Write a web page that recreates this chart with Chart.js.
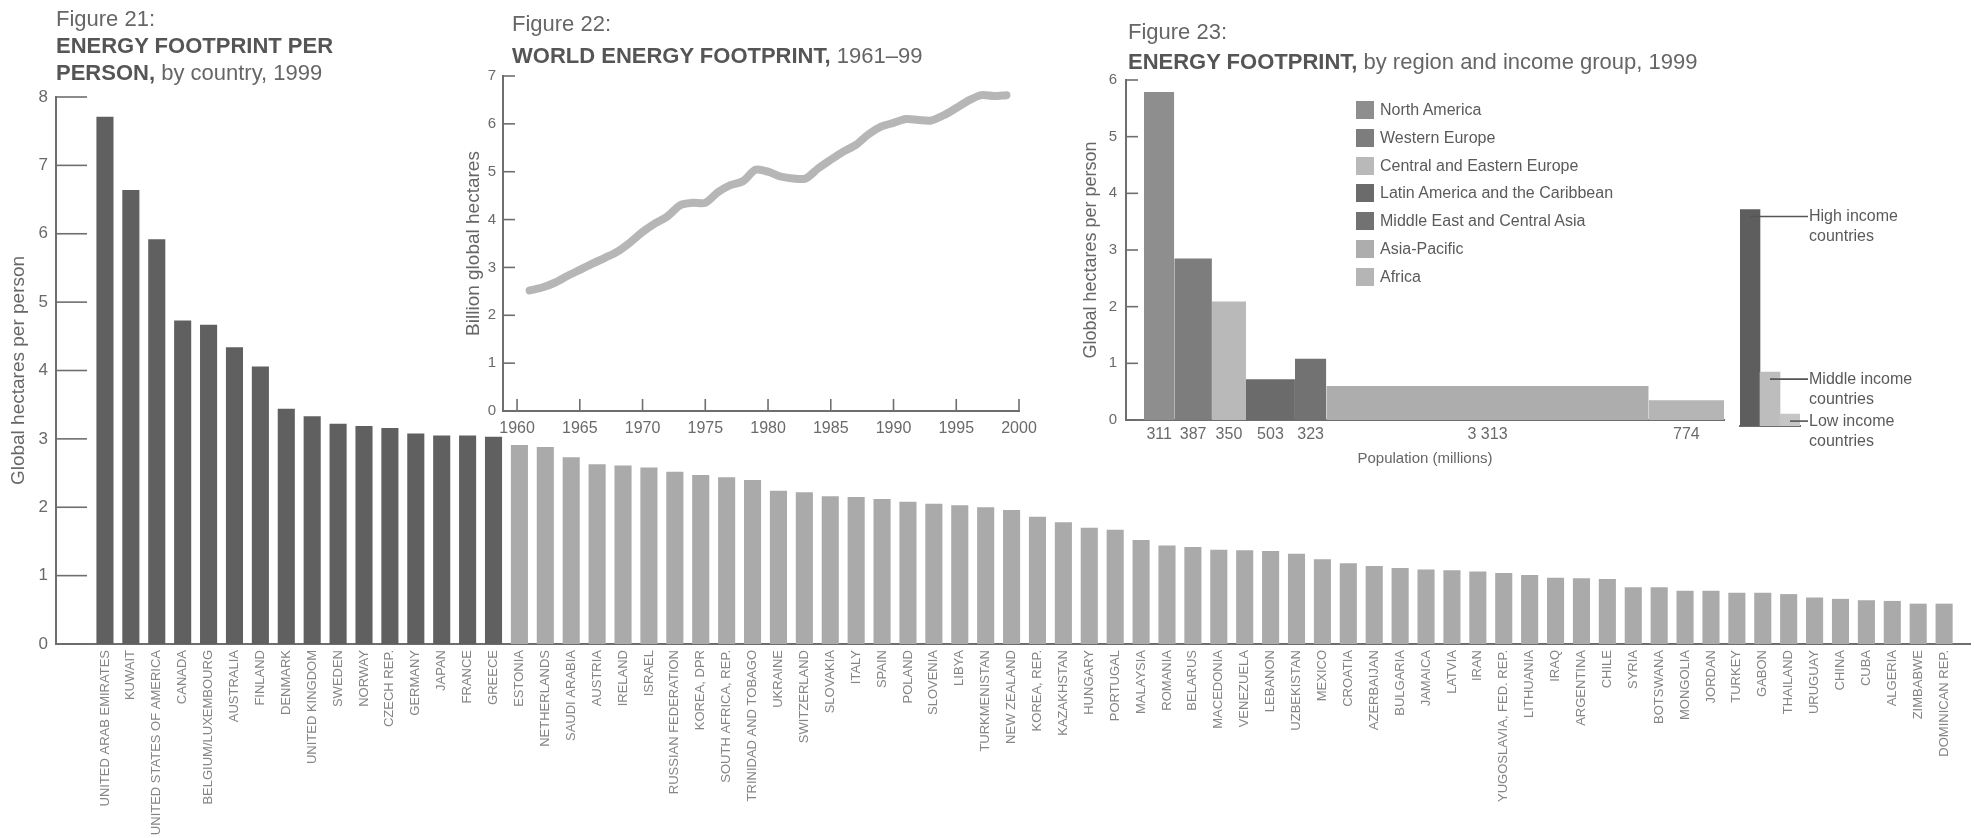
<!DOCTYPE html>
<html><head><meta charset="utf-8">
<script src="https://cdn.jsdelivr.net/npm/chart.js@4.4.1/dist/chart.umd.min.js"></script>
<style>
html,body{margin:0;padding:0;background:#fff;}
#wrap{position:relative;width:1974px;height:838px;overflow:hidden;font-family:"Liberation Sans",Arial,sans-serif;color:#5a5a5a;background:#fff;}
canvas{position:absolute;}
.t{position:absolute;white-space:nowrap;font-size:22px;line-height:27px;color:#666;}
.b{font-weight:bold;color:#555;}
.lg{position:absolute;font-size:16px;line-height:18px;color:#5a5a5a;white-space:nowrap;}
.sw{display:inline-block;width:18px;height:18px;vertical-align:top;margin-right:6px;}
</style></head>
<body><div id="wrap">
<canvas id="c21" width="1974" height="838" style="left:0;top:0"></canvas>
<canvas id="c22" width="600" height="400" style="left:450px;top:60px"></canvas>
<canvas id="c23" width="670" height="420" style="left:1070px;top:60px"></canvas>
<canvas id="cInc" width="254" height="420" style="left:1720px;top:66px"></canvas>
<div class="t" style="left:56px;top:5px">Figure 21:<br><span class="b">ENERGY FOOTPRINT PER</span><br><span class="b">PERSON,</span> by country, 1999</div>
<div class="t" style="left:512px;top:10px">Figure 22:</div>
<div class="t" style="left:512px;top:42px"><span class="b">WORLD ENERGY FOOTPRINT,</span> 1961–99</div>
<div class="t" style="left:1128px;top:18px">Figure 23:</div>
<div class="t" style="left:1128px;top:48px"><span class="b">ENERGY FOOTPRINT,</span> by region and income group, 1999</div>
<div id="legend"></div>
</div>
<script>
// ---------- DATA ----------
const countries = ["UNITED ARAB EMIRATES","KUWAIT","UNITED STATES OF AMERICA","CANADA","BELGIUM/LUXEMBOURG","AUSTRALIA","FINLAND","DENMARK","UNITED KINGDOM","SWEDEN","NORWAY","CZECH REP.","GERMANY","JAPAN","FRANCE","GREECE","ESTONIA","NETHERLANDS","SAUDI ARABIA","AUSTRIA","IRELAND","ISRAEL","RUSSIAN FEDERATION","KOREA, DPR","SOUTH AFRICA, REP.","TRINIDAD AND TOBAGO","UKRAINE","SWITZERLAND","SLOVAKIA","ITALY","SPAIN","POLAND","SLOVENIA","LIBYA","TURKMENISTAN","NEW ZEALAND","KOREA, REP.","KAZAKHSTAN","HUNGARY","PORTUGAL","MALAYSIA","ROMANIA","BELARUS","MACEDONIA","VENEZUELA","LEBANON","UZBEKISTAN","MEXICO","CROATIA","AZERBAIJAN","BULGARIA","JAMAICA","LATVIA","IRAN","YUGOSLAVIA, FED. REP.","LITHUANIA","IRAQ","ARGENTINA","CHILE","SYRIA","BOTSWANA","MONGOLIA","JORDAN","TURKEY","GABON","THAILAND","URUGUAY","CHINA","CUBA","ALGERIA","ZIMBABWE","DOMINICAN REP."];
const footprintPerPerson = [7.71,6.64,5.92,4.73,4.67,4.34,4.06,3.44,3.33,3.22,3.19,3.16,3.08,3.05,3.05,3.03,
  2.91,2.88,2.73,2.63,2.61,2.58,2.52,2.47,
  2.44,2.40,2.24,2.22,2.16,2.15,2.12,2.08,2.05,2.03,2.00,1.96,1.86,1.78,1.70,1.67,1.52,1.44,1.42,1.38,
  1.37,1.36,1.32,1.24,1.18,1.14,1.11,1.09,1.08,1.06,1.04,1.01,0.97,0.96,0.95,0.83,0.83,0.78,0.78,0.75,0.75,0.73,0.68,0.66,0.64,0.63,0.59,0.59];
const highIncomeCountryCount = 16;
const fig21YTicks = [0,1,2,3,4,5,6,7,8];

const years = [1961,1962,1963,1964,1965,1966,1967,1968,1969,1970,1971,1972,1973,1974,1975,1976,1977,1978,1979,1980,1981,1982,1983,1984,1985,1986,1987,1988,1989,1990,1991,1992,1993,1994,1995,1996,1997,1998,1999];
const worldEnergyFootprint = [2.52,2.58,2.68,2.82,2.95,3.08,3.20,3.33,3.52,3.74,3.92,4.07,4.30,4.35,4.35,4.57,4.72,4.80,5.04,5.00,4.90,4.86,4.86,5.07,5.25,5.42,5.56,5.78,5.94,6.02,6.10,6.08,6.07,6.18,6.33,6.49,6.60,6.58,6.60];
const fig22XTicks = [1960,1965,1970,1975,1980,1985,1990,1995,2000];

const regions = ["North America","Western Europe","Central and Eastern Europe","Latin America and the Caribbean","Middle East and Central Asia","Asia-Pacific","Africa"];
const regionFootprint = [5.79,2.85,2.09,0.72,1.08,0.60,0.35];
const regionPopulation = [311,387,350,503,323,3313,774];

const incomeGroups = ["High income countries","Middle income countries","Low income countries"];
const incomeFootprint = [3.82,0.95,0.21];

// ---------- STYLE ----------
const FONT = '"Liberation Sans", Arial, sans-serif';
Chart.defaults.font.family = FONT;
Chart.defaults.color = '#666';
const AXIS = '#6e6e6e', TICKC = '#6a6a6a';
const regionColors = ['#8e8e8e','#7d7d7d','#b9b9b9','#6b6b6b','#727272','#adadad','#b5b5b5'];
const incomeColors = ['#5e5e5e','#bdbdbd','#c6c6c6'];

const innerTicks = {
  id:'innerTicks',
  afterDatasetsDraw(chart, args, opts){
    const ctx = chart.ctx; ctx.save();
    ctx.strokeStyle = opts.color || AXIS; ctx.lineWidth = opts.width || 1.6;
    (opts.axes||[]).forEach(a=>{
      const s = chart.scales[a.id];
      s.ticks.forEach(t=>{
        const p = s.getPixelForValue(t.value);
        ctx.beginPath();
        if (s.isHorizontal()) { ctx.moveTo(p, s.top); ctx.lineTo(p, s.top - a.len); }
        else { ctx.moveTo(s.right, p); ctx.lineTo(s.right + a.len, p); }
        ctx.stroke();
      });
    });
    ctx.restore();
  }
};

// ---------- FIGURE 21 ----------
new Chart(document.getElementById('c21'), {
  type:'bar',
  data:{ datasets:[{
    data: footprintPerPerson.map((v,i)=>({x:i,y:v})),
    backgroundColor: footprintPerPerson.map((v,i)=> i < highIncomeCountryCount ? '#606060' : '#aaaaaa'),
    barPercentage:0.66, categoryPercentage:1.0
  }]},
  plugins:[innerTicks],
  options:{
    responsive:false, animation:false, devicePixelRatio:1,
    layout:{padding:{top:97,right:4,left:0,bottom:0}},
    plugins:{legend:{display:false}, tooltip:{enabled:false},
      innerTicks:{axes:[{id:'y',len:31}]}},
    scales:{
      x:{type:'linear', min:-1.89, max:72.0, offset:false,
        grid:{display:false, drawTicks:false},
        border:{display:true, color:AXIS, width:2},
        afterBuildTicks:s=>{ s.ticks = countries.map((c,i)=>({value:i})); },
        ticks:{autoSkip:false, maxRotation:90, minRotation:90, padding:6, color:'#858585',
          font:{size:13}, callback:(v,i)=>countries[i]},
        afterFit:s=>{ s.height = 194; }
      },
      y:{min:0, max:8,
        afterBuildTicks:s=>{ s.ticks = fig21YTicks.map(v=>({value:v})); },
        grid:{display:false, drawTicks:false},
        border:{display:true, color:AXIS, width:2},
        ticks:{padding:8, color:TICKC, font:{size:17}},
        title:{display:true, text:'Global hectares per person', color:'#666', font:{size:19}, padding:{top:7,bottom:0}},
        afterFit:s=>{ s.width = 56; }
      }
    }
  }
});

// ---------- FIGURE 22 ----------
new Chart(document.getElementById('c22'), {
  type:'line',
  data:{ datasets:[{
    data: years.map((y,i)=>({x:y, y:worldEnergyFootprint[i]})),
    borderColor:'#b6b6b6', borderWidth:8, tension:0.3, pointRadius:0,
    borderCapStyle:'round', borderJoinStyle:'round', fill:false
  }]},
  plugins:[innerTicks],
  options:{
    responsive:false, animation:false, devicePixelRatio:1,
    layout:{padding:{top:12,right:31,left:0,bottom:0}},
    plugins:{legend:{display:false}, tooltip:{enabled:false},
      innerTicks:{axes:[{id:'y',len:12},{id:'x',len:12}]}},
    scales:{
      x:{type:'linear', min:1958.88, max:2000,
        afterBuildTicks:s=>{ s.ticks = fig22XTicks.map(v=>({value:v})); },
        grid:{display:false, drawTicks:false},
        border:{display:true, color:AXIS, width:2},
        ticks:{padding:8, color:TICKC, font:{size:16}, callback:v=>String(v)},
        afterFit:s=>{ s.height = 49; }
      },
      y:{min:0, max:7,
        afterBuildTicks:s=>{ const t=[]; for(let v=0; v<=7; v++) t.push({value:v}); s.ticks=t; },
        grid:{display:false, drawTicks:false},
        border:{display:true, color:AXIS, width:2},
        ticks:{padding:7, color:TICKC, font:{size:15}},
        title:{display:true, text:'Billion global hectares', color:'#666', font:{size:19}, padding:{top:12,bottom:0}},
        afterFit:s=>{ s.width = 53; }
      }
    }
  }
});

// ---------- FIGURE 23 ----------
const cumStart = [];
regionPopulation.reduce((acc,p,i)=>{ cumStart[i]=acc; return acc+p; }, 0);
const totalPop = regionPopulation.reduce((a,b)=>a+b,0);
const popCenters = regionPopulation.map((p,i)=>cumStart[i]+p/2);
const fmtPop = n => n>=1000 ? Math.floor(n/1000)+' '+String(n%1000).padStart(3,'0') : String(n);

new Chart(document.getElementById('c23'), {
  type:'line',
  data:{ datasets: regions.map((r,i)=>({
    label:r,
    data:[{x:cumStart[i], y:regionFootprint[i]},{x:cumStart[i]+regionPopulation[i], y:regionFootprint[i]}],
    fill:'origin', backgroundColor:regionColors[i], borderWidth:0, pointRadius:0, tension:0
  }))},
  plugins:[innerTicks],
  options:{
    responsive:false, animation:false, devicePixelRatio:1,
    layout:{padding:{top:20,right:16,left:0,bottom:0}},
    plugins:{legend:{display:false}, tooltip:{enabled:false},
      innerTicks:{axes:[{id:'y',len:12}]}},
    scales:{
      x:{type:'linear', min:-185, max:totalPop,
        afterBuildTicks:s=>{ s.ticks = popCenters.map(v=>({value:v})); },
        grid:{display:false, drawTicks:false},
        border:{display:true, color:AXIS, width:2},
        ticks:{padding:5, color:TICKC, font:{size:16}, autoSkip:false, maxRotation:0,
          callback:(v,i)=>fmtPop(regionPopulation[i])},
        title:{display:true, text:'Population (millions)', color:'#666', font:{size:15}, padding:{top:0,bottom:12}},
        afterFit:s=>{ s.height = 60; }
      },
      y:{min:0, max:6,
        afterBuildTicks:s=>{ const t=[]; for(let v=0; v<=6; v++) t.push({value:v}); s.ticks=t; },
        grid:{display:false, drawTicks:false},
        border:{display:true, color:AXIS, width:2},
        ticks:{padding:9, color:TICKC, font:{size:15}},
        title:{display:true, text:'Global hectares per person', color:'#666', font:{size:18}, padding:{top:10,bottom:0}},
        afterFit:s=>{ s.width = 56; }
      }
    }
  }
});

// legend for figure 23 (HTML)
const lg = document.getElementById('legend');
regions.forEach((r,i)=>{
  const d = document.createElement('div');
  d.className='lg';
  d.style.left='1356px';
  d.style.top=(101 + i*27.8)+'px';
  d.innerHTML = '<span class="sw" style="background:'+regionColors[i]+'"></span>'+r;
  lg.appendChild(d);
});

// ---------- INCOME GROUP BARS ----------
const incomeLabels = {
  id:'incomeLabels',
  afterDatasetsDraw(chart){
    const ctx = chart.ctx; const meta = chart.getDatasetMeta(0);
    ctx.save();
    ctx.strokeStyle='#555'; ctx.lineWidth=1.6;
    ctx.fillStyle='#5a5a5a'; ctx.font='16px '+FONT; ctx.textBaseline='middle'; ctx.textAlign='left';
    const xText = chart.chartArea.right + 8;
    meta.data.forEach((bar,i)=>{
      const y = bar.y + 7;
      ctx.beginPath(); ctx.moveTo(bar.x, y); ctx.lineTo(xText, y); ctx.stroke();
      const words = incomeGroups[i].split(' ');
      ctx.fillText(words.slice(0,2).join(' '), xText+1, y);
      ctx.fillText(words.slice(2).join(' '), xText+1, y+20);
    });
    ctx.restore();
  }
};
new Chart(document.getElementById('cInc'), {
  type:'bar',
  data:{ labels:incomeGroups, datasets:[{ data:incomeFootprint, backgroundColor:incomeColors, barPercentage:1, categoryPercentage:1 }]},
  plugins:[incomeLabels],
  options:{
    responsive:false, animation:false, devicePixelRatio:1,
    layout:{padding:{top:20,right:174,left:20,bottom:0}},
    plugins:{legend:{display:false}, tooltip:{enabled:false}},
    scales:{
      x:{display:true, grid:{display:false, drawTicks:false}, ticks:{display:false},
        border:{display:true, color:AXIS, width:2}, afterFit:s=>{ s.height = 60; }},
      y:{display:false, min:0, max:6}
    }
  }
});
</script>
</body></html>
